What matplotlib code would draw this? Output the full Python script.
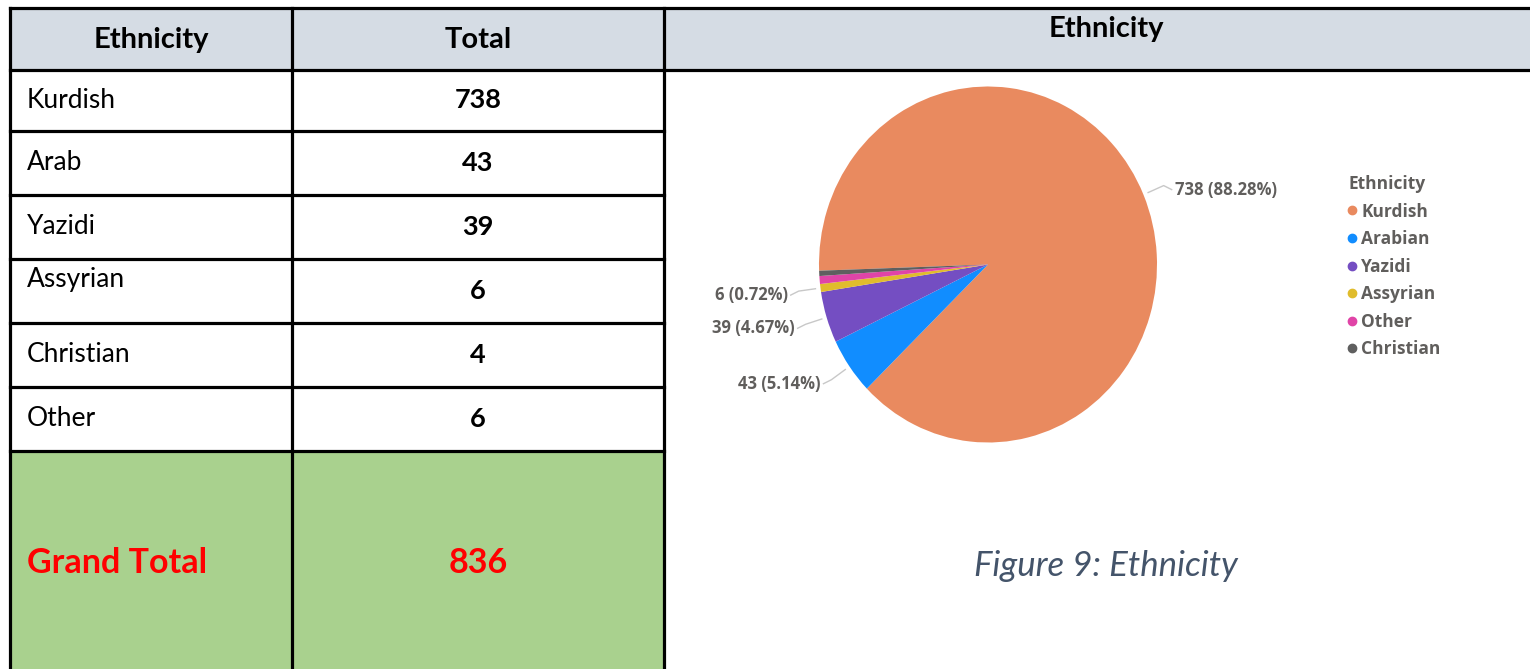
import numpy as np
import matplotlib.pyplot as plt
from matplotlib.patches import Rectangle
from matplotlib.lines import Line2D

plt.rcParams['font.family'] = ['Open Sans', 'DejaVu Sans']

# table data
table_rows = ["Kurdish", "Arab", "Yazidi", "Assyrian", "Christian", "Other"]
table_totals = [738, 43, 39, 6, 4, 6]
grand_total = 836

# pie data (Power BI ordering)
pie_labels = ["Kurdish", "Arabian", "Yazidi", "Assyrian", "Other", "Christian"]
pie_values = [738, 43, 39, 6, 6, 4]
pie_colors = ["#E98A5F", "#118DFF", "#744EC2", "#E0BC2C", "#E044A7", "#5F5F5F"]
labelled = ["Kurdish", "Arabian", "Yazidi", "Assyrian"]

W, H = 1530, 669
fig = plt.figure(figsize=(W / 100, H / 100), dpi=100)

# background axes in pixel coordinates for the table
bg = fig.add_axes([0, 0, 1, 1])
bg.set_xlim(0, W)
bg.set_ylim(H, 0)
bg.axis('off')

x_left, x_mid, x_right = 10, 292, 664
y_top, y_head = 8, 70
y_first, row_h = 131, 64
row_edges = [y_head] + [y_first + row_h * i for i in range(len(table_rows))]
y_green = row_edges[-1]

head_fill = "#D5DCE4"
bg.add_patch(Rectangle((x_left, y_top), W - x_left, y_head - y_top, fc=head_fill, ec='none'))
bg.add_patch(Rectangle((x_left, y_green), x_right - x_left, H - y_green, fc="#A9D18E", ec='none'))

lw = 2.3
bg.plot([x_left, W], [y_top, y_top], color='black', lw=lw)
bg.plot([x_left, W], [y_head, y_head], color='black', lw=lw)
for y in row_edges[1:]:
    bg.plot([x_left, x_right], [y, y], color='black', lw=lw)
for x in [x_left, x_mid, x_right]:
    bg.plot([x, x], [y_top, H], color='black', lw=lw)

tfont = 'Lato'
bg.text((x_left + x_mid) / 2, (y_top + y_head) / 2 + 1, "Ethnicity", family=tfont,
        fontsize=21, fontweight='bold', ha='center', va='center')
bg.text((x_mid + x_right) / 2, (y_top + y_head) / 2 + 1, "Total", family=tfont,
        fontsize=21, fontweight='bold', ha='center', va='center')

for i, (name, val) in enumerate(zip(table_rows, table_totals)):
    yc = (row_edges[i] + row_edges[i + 1]) / 2
    ty = yc - 11 if name == "Assyrian" else yc
    bg.text(x_left + 17, ty, name, family=tfont, fontsize=19, ha='left', va='center')
    bg.text((x_mid + x_right) / 2, yc, str(val), family=tfont, fontsize=19.5,
            fontweight='bold', ha='center', va='center')

yg = (y_green + H) / 2 + 3
bg.text(x_left + 17, yg, "Grand Total", family=tfont, fontsize=24.5, fontweight='bold',
        color='#FF0000', ha='left', va='center')
bg.text((x_mid + x_right) / 2, yg, str(grand_total), family=tfont, fontsize=24.5,
        fontweight='bold', color='#FF0000', ha='center', va='center')

# right panel header and caption
bg.text(1106, 29, "Ethnicity", family=tfont, fontsize=21, fontweight='bold',
        ha='center', va='center')
bg.text(1106, 566, "Figure 9: Ethnicity", family=tfont, fontsize=25, style='italic',
        color='#44546A', ha='center', va='center')

# pie chart (slightly taller than wide, as in the source)
cx, cy, rx, ry = 988, 264.5, 169, 178
ax = fig.add_axes([(cx - rx) / W, (H - cy - ry) / H, 2 * rx / W, 2 * ry / H])
wedges, _ = ax.pie(pie_values, colors=pie_colors, startangle=182, counterclock=False,
                   wedgeprops=dict(linewidth=0))
ax.set_aspect('auto')
ax.set_xlim(-1, 1)
ax.set_ylim(-1, 1)

total = sum(pie_values)
for w, name, val in zip(wedges, pie_labels, pie_values):
    if name not in labelled:
        continue
    ang = np.deg2rad((w.theta1 + w.theta2) / 2)
    c, s = np.cos(ang), np.sin(ang)
    side = 1 if c > 0 else -1
    p0 = (1.03 * c, 1.03 * s)
    p1 = (1.13 * c, 1.13 * s)
    p2 = (p1[0] + side * 8 / rx, p1[1] - 4 / ry)
    ax.plot([p0[0], p1[0], p2[0]], [p0[1], p1[1], p2[1]], color='#C8C8C8', lw=1,
            clip_on=False)
    ax.text(p2[0] + side * 3 / rx, p2[1], f"{val} ({val / total * 100:.2f}%)",
            ha='left' if side > 0 else 'right', va='center', fontsize=12,
            fontweight='bold', color='#605E5C', clip_on=False)

handles = [Line2D([], [], marker='o', ls='', color=c, markersize=6) for c in pie_colors]
leg = fig.legend(handles, pie_labels, title="Ethnicity", loc='upper left',
                 bbox_to_anchor=(1348 / W, 1 - 175 / H), frameon=False,
                 handlelength=0.5, handletextpad=0.25, labelspacing=0.55,
                 borderpad=0, borderaxespad=0, alignment='left',
                 prop=dict(size=12.5, weight='bold'),
                 title_fontproperties=dict(size=12.5, weight='bold'))
for t in leg.get_texts():
    t.set_color('#605E5C')
leg.get_title().set_color('#605E5C')

fig.savefig("out.png", dpi=100)
